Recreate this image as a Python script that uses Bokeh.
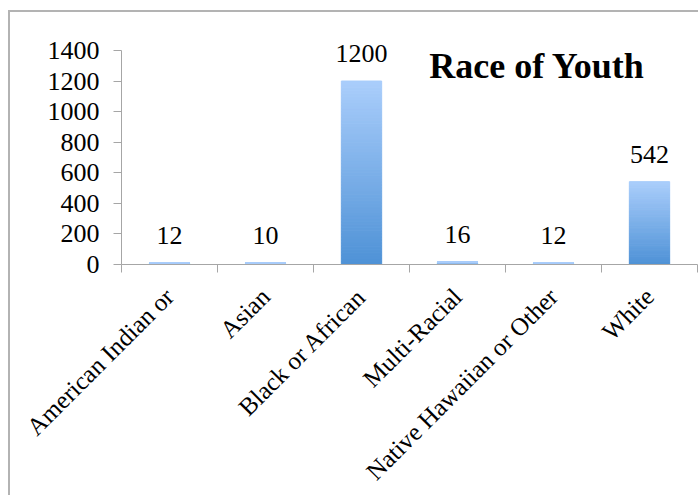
import math
import numpy as np
from bokeh.plotting import figure
from bokeh.models import Range1d, FixedTicker, ColumnDataSource, LabelSet, Label
from bokeh.embed import file_html
from bokeh.resources import INLINE

categories = ["American Indian or", "Asian", "Black or African", "Multi-Racial",
              "Native Hawaiian or Other", "White"]
counts = [12, 10, 1200, 16, 12, 542]
y_ticks = [0, 200, 400, 600, 800, 1000, 1200, 1400]

FONT = "serif"
AXIS = "#a6a6a6"
TOP_COLOR = (170, 205, 251)
BOTTOM_COLOR = (78, 146, 214)

x_pos = np.arange(len(categories)) + 0.5

p = figure(width=690, height=485, x_range=Range1d(0, len(categories)),
           y_range=Range1d(0, 1622), output_backend="svg", toolbar_location=None,
           min_border_left=111, min_border_right=3, min_border_top=4,
           min_border_bottom=233)
p.margin = (10, 0, 0, 8)
p.styles = {"border-left": "2px solid #b3b3b3", "border-top": "2px solid #b3b3b3"}
p.outline_line_color = None
p.grid.grid_line_color = None

# bars drawn as stacked bands to give a vertical light-to-dark gradient
n_bands = 60
for k in range(n_bands):
    f0, f1 = k / n_bands, (k + 1) / n_bands
    t = (f0 + f1) / 2
    col = tuple(int(round(BOTTOM_COLOR[i] + (TOP_COLOR[i] - BOTTOM_COLOR[i]) * t)) for i in range(3))
    hexcol = "#%02x%02x%02x" % col
    src = ColumnDataSource(dict(x=x_pos,
                                bottom=[v * f0 for v in counts],
                                top=[v * f1 for v in counts]))
    p.vbar(x="x", bottom="bottom", top="top", width=0.42, source=src,
           fill_color=hexcol, line_color=hexcol, line_width=1)

# value labels above the bars
lab_src = ColumnDataSource(dict(x=x_pos, y=counts, txt=[str(v) for v in counts]))
p.add_layout(LabelSet(x="x", y="y", text="txt", source=lab_src, y_offset=19,
                      text_align="center", text_baseline="alphabetic",
                      text_font=FONT, text_font_size="26px", text_color="black"))

p.add_layout(Label(x=4.33, y=1295, text="Race of Youth", text_align="center",
                   text_baseline="alphabetic", text_font=FONT, text_font_size="36px",
                   text_font_style="bold", text_color="black"))

# y axis, line limited to the 0-1400 span
yax = p.yaxis[0]
yax.ticker = FixedTicker(ticks=y_ticks, minor_ticks=[])
yax.bounds = (0, 1400)
yax.axis_line_color = AXIS
yax.major_tick_line_color = AXIS
yax.major_tick_in = 0
yax.major_tick_out = 8
yax.minor_tick_line_color = None
yax.major_label_text_font = FONT
yax.major_label_text_font_size = "26px"
yax.major_label_text_color = "black"
yax.major_label_standoff = 14

# x axis: labels at centres, tick marks at category boundaries
xax = p.xaxis[0]
xax.ticker = FixedTicker(ticks=list(x_pos), minor_ticks=list(range(len(categories) + 1)))
xax.major_label_overrides = {float(x): c for x, c in zip(x_pos, categories)}
xax.major_tick_line_color = None
xax.minor_tick_line_color = AXIS
xax.minor_tick_in = 0
xax.minor_tick_out = 8
xax.axis_line_color = AXIS
xax.major_label_orientation = math.pi / 4
xax.major_label_text_font = FONT
xax.major_label_text_font_size = "25px"
xax.major_label_text_color = "black"
xax.major_label_standoff = 20

open("out.html", "w").write(file_html(p, INLINE))
